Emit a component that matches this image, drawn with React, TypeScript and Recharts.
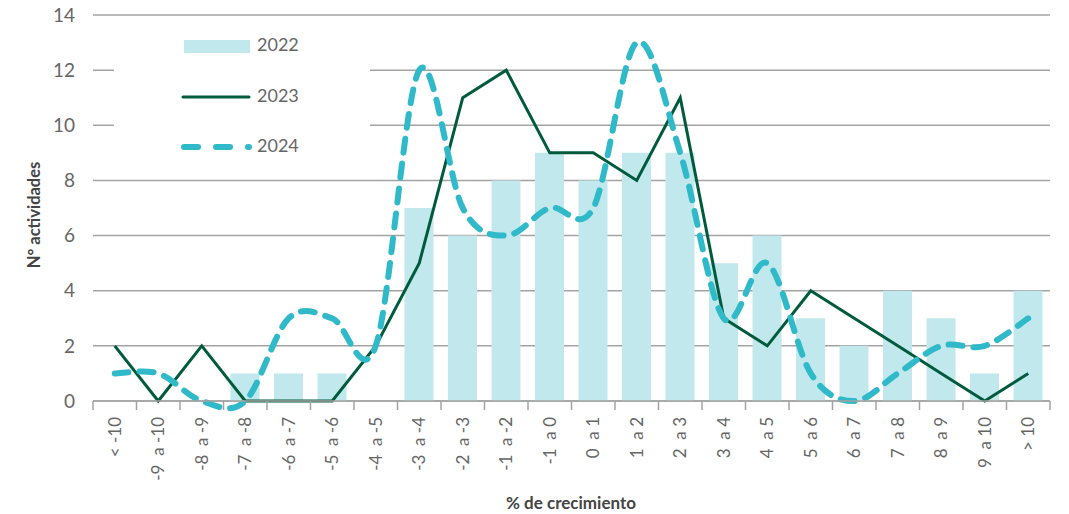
import React from "react";
import { ComposedChart, Bar, Line, CartesianGrid, XAxis, YAxis } from "recharts";

const categories = [
  "< -10", "-9  a -10", "-8  a -9", "-7  a -8", "-6  a -7", "-5  a -6", "-4  a -5",
  "-3  a -4", "-2  a -3", "-1  a -2", "-1  a 0", "0  a 1", "1  a 2", "2  a 3",
  "3  a 4", "4  a 5", "5  a 6", "6  a 7", "7  a 8", "8  a 9", "9  a 10", "> 10",
];
const v2022 = [0, 0, 0, 1, 1, 1, 0, 7, 6, 8, 9, 8, 9, 9, 5, 6, 3, 2, 4, 3, 1, 4];
const v2023 = [2, 0, 2, 0, 0, 0, 2, 5, 11, 12, 9, 9, 8, 11, 3, 2, 4, 3, 2, 1, 0, 1];
const v2024 = [1, 1, 0, 0, 3, 3, 2, 12, 7, 6, 7, 7, 13, 9, 3, 5, 1, 0, 1, 2, 2, 3];
const yTicks = [0, 2, 4, 6, 8, 10, 12, 14];

const data = categories.map((c, i) => ({ cat: c, y2022: v2022[i], y2023: v2023[i], y2024: v2024[i] }));

const W = 1069;
const H = 514;
const M = { top: 15, right: 19, left: 0, bottom: 0 };
const Y_W = 93;
const X_H = 113;
const band = (W - M.left - M.right - Y_W) / categories.length;

const C22 = "#c1e9ed";
const C23 = "#005b3c";
const C24 = "#30b9c9";
const GRID = "#a3a3a3";
const TXT = "#666666";
const FONT = "Lato, 'Open Sans', sans-serif";

// Excel-like smoothed line (Catmull-Rom through every point)
const smooth: any = (ctx: any) => {
  let pts: number[][] = [];
  return {
    areaStart() {},
    areaEnd() {},
    lineStart() { pts = []; },
    point(x: number, y: number) { pts.push([+x, +y]); },
    lineEnd() {
      if (!pts.length) return;
      ctx.moveTo(pts[0][0], pts[0][1]);
      for (let i = 0; i < pts.length - 1; i++) {
        const p0 = pts[Math.max(i - 1, 0)];
        const p1 = pts[i];
        const p2 = pts[i + 1];
        const p3 = pts[Math.min(i + 2, pts.length - 1)];
        ctx.bezierCurveTo(
          p1[0] + (p2[0] - p0[0]) / 6, p1[1] + (p2[1] - p0[1]) / 6,
          p2[0] - (p3[0] - p1[0]) / 6, p2[1] - (p3[1] - p1[1]) / 6,
          p2[0], p2[1],
        );
      }
    },
  };
};

const XTick = (props: any) => {
  const { x, y, payload, index } = props;
  const left = x - band / 2;
  return (
    <g>
      <line x1={left} x2={left} y1={y - 8} y2={y + 1} stroke={GRID} strokeWidth={1.5} />
      {index === categories.length - 1 && (
        <line x1={left + band} x2={left + band} y1={y - 8} y2={y + 1} stroke={GRID} strokeWidth={1.5} />
      )}
      <text
        x={0}
        y={0}
        transform={`translate(${x + 6},${y + 8}) rotate(-90)`}
        textAnchor="end"
        fill={TXT}
        fontSize={17}
        fontFamily={FONT}
        style={{ whiteSpace: "pre" }}
      >
        {payload.value}
      </text>
    </g>
  );
};

const Legend = () => (
  <div
    style={{
      position: "absolute", left: 114, top: 25, width: 256, height: 140,
      background: "#fff", fontFamily: FONT, fontSize: 18, color: TXT,
    }}
  >
    <div style={{ position: "absolute", left: 70, top: 15, width: 66, height: 13, background: C22 }} />
    <div style={{ position: "absolute", left: 143, top: 8 }}>2022</div>
    <svg style={{ position: "absolute", left: 66, top: 66 }} width={72} height={12}>
      <line x1={3} x2={69} y1={6} y2={6} stroke={C23} strokeWidth={3} strokeLinecap="round" />
    </svg>
    <div style={{ position: "absolute", left: 143, top: 59 }}>2023</div>
    <svg style={{ position: "absolute", left: 66, top: 116 }} width={72} height={12}>
      <line x1={4} x2={69} y1={6} y2={6} stroke={C24} strokeWidth={6} strokeLinecap="round" strokeDasharray="14 18" />
    </svg>
    <div style={{ position: "absolute", left: 143, top: 109 }}>2024</div>
  </div>
);

export default function App() {
  return (
    <div style={{ position: "absolute", left: 0, top: 0, width: W, height: H, background: "#fff" }}>
      <ComposedChart width={W} height={H} data={data} margin={M}>
        <CartesianGrid vertical={false} stroke={GRID} strokeWidth={1.5} />
        <XAxis
          dataKey="cat"
          interval={0}
          tickLine={false}
          axisLine={{ stroke: GRID, strokeWidth: 1.5 }}
          tick={<XTick />}
          height={X_H}
        />
        <YAxis
          width={Y_W}
          domain={[0, 14]}
          ticks={yTicks}
          axisLine={false}
          tickLine={false}
          tickMargin={12}
          tick={{ fill: TXT, fontSize: 19, fontFamily: FONT }}
        />
        <Bar dataKey="y2022" fill={C22} barSize={Math.round(band * 0.67)} isAnimationActive={false} />
        <Line
          dataKey="y2023"
          type="linear"
          stroke={C23}
          strokeWidth={3}
          dot={false}
          isAnimationActive={false}
        />
        <Line
          dataKey="y2024"
          type={smooth}
          stroke={C24}
          strokeWidth={6}
          strokeDasharray="14 11"
          strokeLinecap="round"
          dot={false}
          isAnimationActive={false}
        />
        <text x={40} y={215} transform="rotate(-90 40 215)" textAnchor="middle" fill="#444" fontSize={16.5} fontWeight={700} fontFamily={FONT}>
          N° actividades
        </text>
        <text x={571} y={509} textAnchor="middle" fill="#444" fontSize={17} fontWeight={700} fontFamily={FONT}>
          % de crecimiento
        </text>
      </ComposedChart>
      <Legend />
    </div>
  );
}
